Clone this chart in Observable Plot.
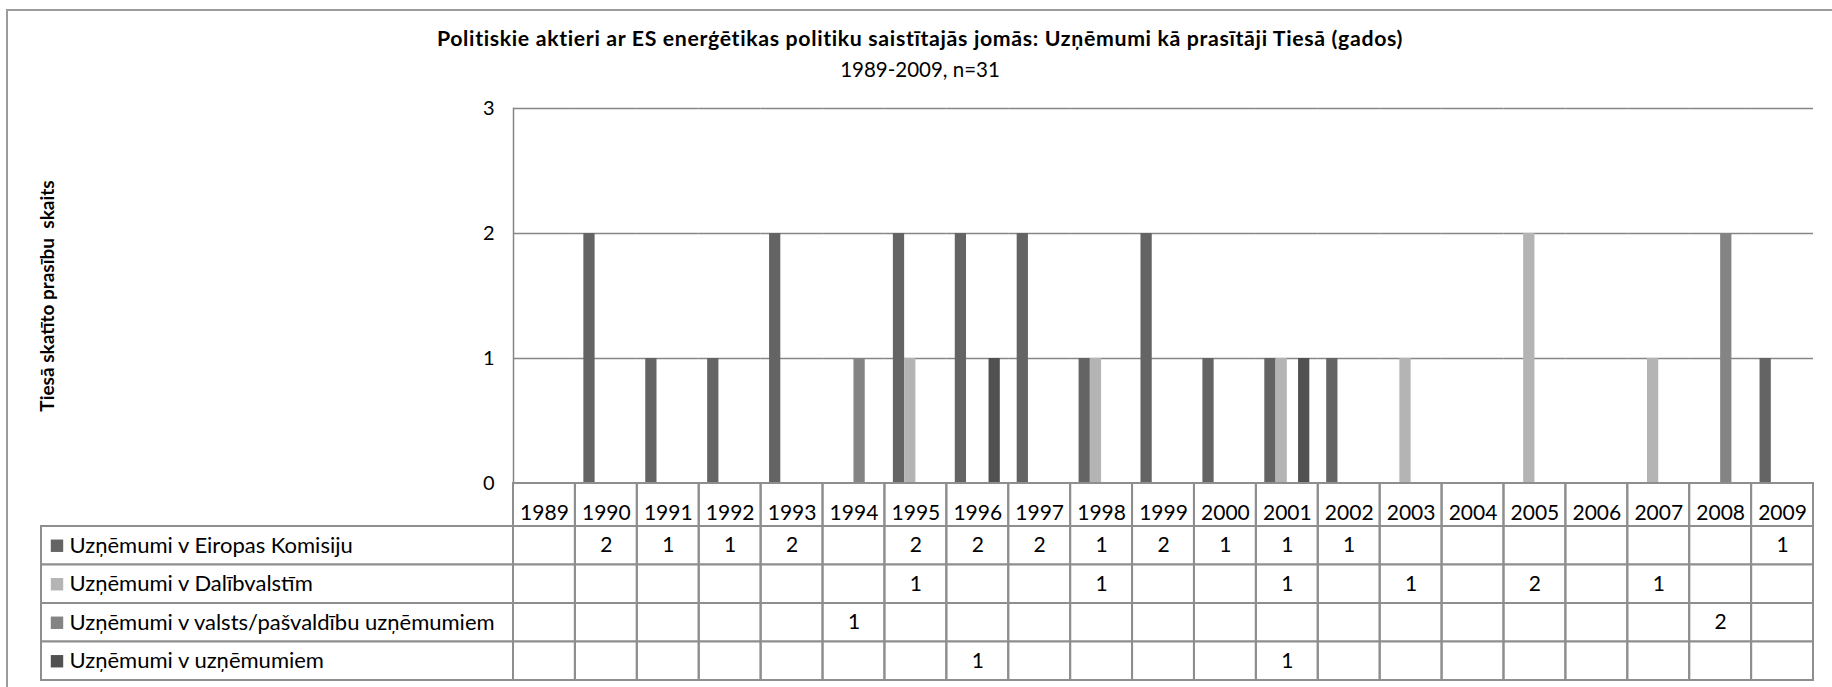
<!DOCTYPE html>
<html>
<head>
<meta charset="utf-8">
<script src="https://cdn.jsdelivr.net/npm/d3@7"></script>
<script src="https://cdn.jsdelivr.net/npm/@observablehq/plot@0.6"></script>
<style>
  html, body { margin: 0; padding: 0; background: #fff; }
  #wrap { position: relative; width: 1832px; height: 687px; overflow: hidden; font-family: Lato, "DejaVu Sans", sans-serif; color: #000; }
  #border { position: absolute; left: 6px; top: 9px; width: 1900px; height: 800px; border-left: 2px solid #9c9c9c; border-top: 2px solid #9c9c9c; }
  .title { position: absolute; left: 0; width: 1840px; text-align: center; white-space: nowrap; }
  #title { top: 26px; font-size: 21.3px; line-height: 24px; font-weight: bold; letter-spacing: 0.65px; }
  #subtitle { top: 57px; font-size: 20.5px; line-height: 24px; }
  #chart { position: absolute; left: 0; top: 88px; }
  #table { position: absolute; left: 0; top: 482px; }
</style>
</head>
<body>
<div id="wrap">
  <div id="border"></div>
  <div id="chart"></div>
  <div id="table"></div>
  <div class="title" id="title"></div>
  <div class="title" id="subtitle"></div>
</div>
<script>
// ---- data ----
const titleText = "Politiskie aktieri ar ES enerģētikas politiku saistītajās jomās: Uzņēmumi kā prasītāji Tiesā (gados)";
const subtitleText = "1989-2009, n=31";
const yTitle = "Tiesā skatīto prasību  skaits";
const years = [1989, 1990, 1991, 1992, 1993, 1994, 1995, 1996, 1997, 1998, 1999, 2000, 2001, 2002, 2003, 2004, 2005, 2006, 2007, 2008, 2009];
const seriesNames = [
  "Uzņēmumi v Eiropas Komisiju",
  "Uzņēmumi v Dalībvalstīm",
  "Uzņēmumi v valsts/pašvaldību uzņēmumiem",
  "Uzņēmumi v uzņēmumiem"
];
const eiropasKomisiju   = [null, 2, 1, 1, 2, null, 2, 2, 2, 1, 2, 1, 1, 1, null, null, null, null, null, null, 1];
const dalibvalstim      = [null, null, null, null, null, null, 1, null, null, 1, null, null, 1, null, 1, null, 2, null, 1, null, null];
const valstsUznemumiem  = [null, null, null, null, null, 1, null, null, null, null, null, null, null, null, null, null, null, null, null, 2, null];
const uznemumiem        = [null, null, null, null, null, null, null, 1, null, null, null, null, 1, null, null, null, null, null, null, null, null];
const seriesColors = ["#646464", "#b4b4b4", "#848484", "#515151"];
const yTicks = [0, 1, 2, 3];

// ---- build tables ----
const seriesValues = [eiropasKomisiju, dalibvalstim, valstsUznemumiem, uznemumiem];
const rows = [];
seriesNames.forEach((name, si) => years.forEach((yr, i) => {
  const v = seriesValues[si][i];
  if (v != null) rows.push({year: yr, series: name, value: v});
}));
const gridRows = years.flatMap(yr => yTicks.slice(1).map(v => ({year: yr, v})));

document.getElementById("title").textContent = titleText;
document.getElementById("subtitle").textContent = subtitleText;

const W = 1832, ML = 513, MR = 19;
const gridColor = "#868686";
const tableColor = "#8e8e8e";
const font = "Lato, 'DejaVu Sans', sans-serif";

const chart = Plot.plot({
  width: W, height: 400,
  marginTop: 20, marginBottom: 5, marginLeft: ML, marginRight: MR,
  style: {fontFamily: font, fontSize: "20px", color: "#000", background: "transparent", overflow: "visible"},
  fx: {domain: years, padding: 0, round: false, axis: null},
  x: {domain: seriesNames, paddingInner: 0, paddingOuter: 0.75, round: false, axis: null},
  y: {domain: [0, 3], ticks: yTicks, tickSize: 0, tickPadding: 19, label: null, tickFormat: d => String(d)},
  color: {domain: seriesNames, range: seriesColors},
  marks: [
    Plot.ruleY(gridRows, {fx: "year", y: "v", stroke: gridColor, strokeWidth: 1.5}),
    Plot.barY(rows, {fx: "year", x: "series", y: "value", fill: "series"}),
    Plot.frame({anchor: "left", stroke: gridColor, strokeWidth: 1.5, facetAnchor: "left"}),
    Plot.text([{year: years[0], t: yTitle}], {fx: "year", text: "t", frameAnchor: "left", textAnchor: "middle", rotate: -90, dx: 47 - ML, fontWeight: "bold", fontSize: 19, fill: "#000"})
  ]
});
document.getElementById("chart").appendChild(chart);

const table = Plot.plot({
  width: W, height: 202,
  marginTop: 44, marginBottom: 4, marginLeft: ML, marginRight: MR,
  style: {fontFamily: font, fontSize: "21px", color: "#000", background: "transparent", overflow: "visible"},
  x: {domain: years, padding: 0, round: false, axis: null},
  y: {domain: seriesNames, padding: 0, round: false, axis: null},
  color: {domain: seriesNames, range: seriesColors},
  marks: [
    Plot.cell(seriesNames, {y: d => d, insetLeft: 41 - ML, fill: "white", stroke: tableColor, strokeWidth: 2}),
    Plot.cell(years, {x: d => d, insetTop: -43, fill: "none", stroke: tableColor, strokeWidth: 2}),
    Plot.text(years, {x: d => d, frameAnchor: "top", dy: -21, text: d => String(d), fontSize: 21, fill: "#000"}),
    Plot.text(rows, {x: "year", y: "series", text: d => String(d.value), fontSize: 21, fill: "#000"}),
    Plot.dot(seriesNames, {y: d => d, frameAnchor: "left", dx: 56.5 - ML, symbol: "square", r: 7, fill: d => d, stroke: null}),
    Plot.text(seriesNames, {y: d => d, frameAnchor: "left", dx: 69 - ML, textAnchor: "start", text: d => d, fontSize: 22, fill: "#000"})
  ]
});
document.getElementById("table").appendChild(table);
</script>
</body>
</html>
